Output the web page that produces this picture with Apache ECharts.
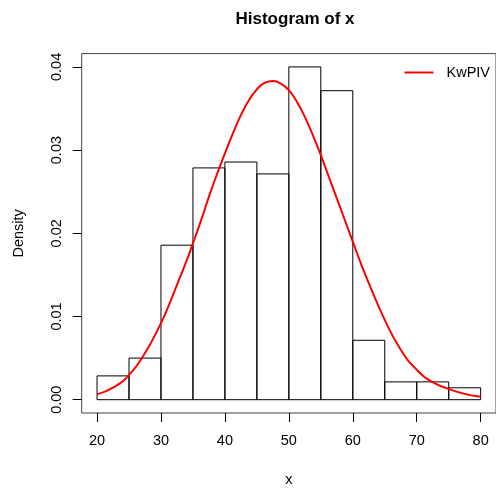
<!DOCTYPE html>
<html>
<head>
<meta charset="utf-8">
<script src="https://cdn.jsdelivr.net/npm/echarts@6/dist/echarts.min.js"></script>
<style>
  html, body { margin: 0; padding: 0; background: #fff; }
  #chart { width: 496px; height: 492px; }
</style>
</head>
<body>
<div id="chart"></div>
<script>
// histogram breaks and densities
let breaks = [20, 25, 30, 35, 40, 45, 50, 55, 60, 65, 70, 75, 80];
let density = [0.00286, 0.005, 0.01857, 0.02786, 0.02857, 0.02714, 0.04, 0.03714, 0.00714, 0.00214, 0.00214, 0.00143];

// fitted KwPIV curve
let curveX = [20, 22.5, 25, 27.5, 30, 31.25, 32.5, 33.75, 35, 36.25, 37.5, 38.75, 40, 41.25, 42.5, 43.75, 45, 46.25, 47.5, 48.75, 50, 51.25, 52.5, 53.75, 55, 56.25, 57.5, 58.75, 60, 61.25, 62.5, 65, 67.5, 70, 72.5, 75, 77.5, 80];
let curveY = [0.00064, 0.00144, 0.00295, 0.0056, 0.0092, 0.0114, 0.0138, 0.0162, 0.0188, 0.0215, 0.0244, 0.0271, 0.0296, 0.032, 0.0342, 0.036, 0.0373, 0.0381, 0.0383, 0.038, 0.0372, 0.0358, 0.034, 0.0318, 0.0294, 0.0268, 0.0242, 0.0216, 0.019, 0.0164, 0.014, 0.0096, 0.006, 0.0036, 0.0021, 0.0013, 0.0007, 0.00036];

let xTicks = [20, 30, 40, 50, 60, 70, 80];
let yTicks = [0, 0.01, 0.02, 0.03, 0.04];

let font = 'Liberation Sans, Arial, Helvetica, sans-serif';

let bins = density.map((d, i) => [breaks[i], breaks[i + 1], d]);
let curve = curveX.map((x, i) => [x, curveY[i]]);

let chart = echarts.init(document.getElementById('chart'));

chart.setOption({
  backgroundColor: '#fff',
  animation: false,
  title: {
    text: 'Histogram of x',
    left: 290,
    top: 6,
    textAlign: 'center',
    textStyle: { fontFamily: font, fontSize: 17, fontWeight: 'bold', color: '#000' }
  },
  legend: {
    right: 6,
    top: 65,
    padding: 0,
    itemWidth: 29,
    itemHeight: 2,
    icon: 'rect',
    data: ['KwPIV'],
    textStyle: { fontFamily: font, fontSize: 14.5, color: '#000', padding: [0, 0, 0, 8] }
  },
  grid: {
    left: 81.7,
    right: -1.7,
    top: 53.6,
    bottom: 78.4,
    show: true,
    borderColor: '#444',
    borderWidth: 1
  },
  xAxis: {
    type: 'value',
    min: 17.6,
    max: 82.4,
    name: 'x',
    nameLocation: 'middle',
    nameGap: 59,
    nameTextStyle: { fontFamily: font, fontSize: 14.5, color: '#000' },
    axisLine: { show: false, onZero: false },
    splitLine: { show: false },
    axisTick: { show: true, length: 9, customValues: xTicks, lineStyle: { color: '#000' } },
    axisLabel: {
      customValues: xTicks,
      margin: 20,
      fontFamily: font,
      fontSize: 14.5,
      color: '#000'
    }
  },
  yAxis: {
    type: 'value',
    min: -0.0016,
    max: 0.0416,
    name: 'Density',
    nameLocation: 'middle',
    nameGap: 55,
    nameTextStyle: { fontFamily: font, fontSize: 14.5, color: '#000' },
    axisLine: { show: false, onZero: false },
    splitLine: { show: false },
    axisTick: { show: true, length: 9, customValues: yTicks, lineStyle: { color: '#000' } },
    axisLabel: {
      customValues: yTicks,
      rotate: 90,
      margin: 17,
      fontFamily: font,
      fontSize: 14.5,
      color: '#000',
      formatter: v => v.toFixed(2)
    }
  },
  series: [
    {
      type: 'custom',
      name: 'hist',
      data: bins,
      renderItem: (params, api) => {
        let p0 = api.coord([api.value(0), api.value(2)]);
        let p1 = api.coord([api.value(1), 0]);
        return {
          type: 'rect',
          shape: { x: p0[0], y: p0[1], width: p1[0] - p0[0], height: p1[1] - p0[1] },
          style: { fill: 'none', stroke: '#000', lineWidth: 1 }
        };
      },
      z: 1
    },
    {
      type: 'line',
      name: 'KwPIV',
      data: curve,
      smooth: 0.5,
      symbol: 'none',
      lineStyle: { color: '#ff0000', width: 2 },
      itemStyle: { color: '#ff0000' },
      z: 3
    }
  ]
});
</script>
</body>
</html>
